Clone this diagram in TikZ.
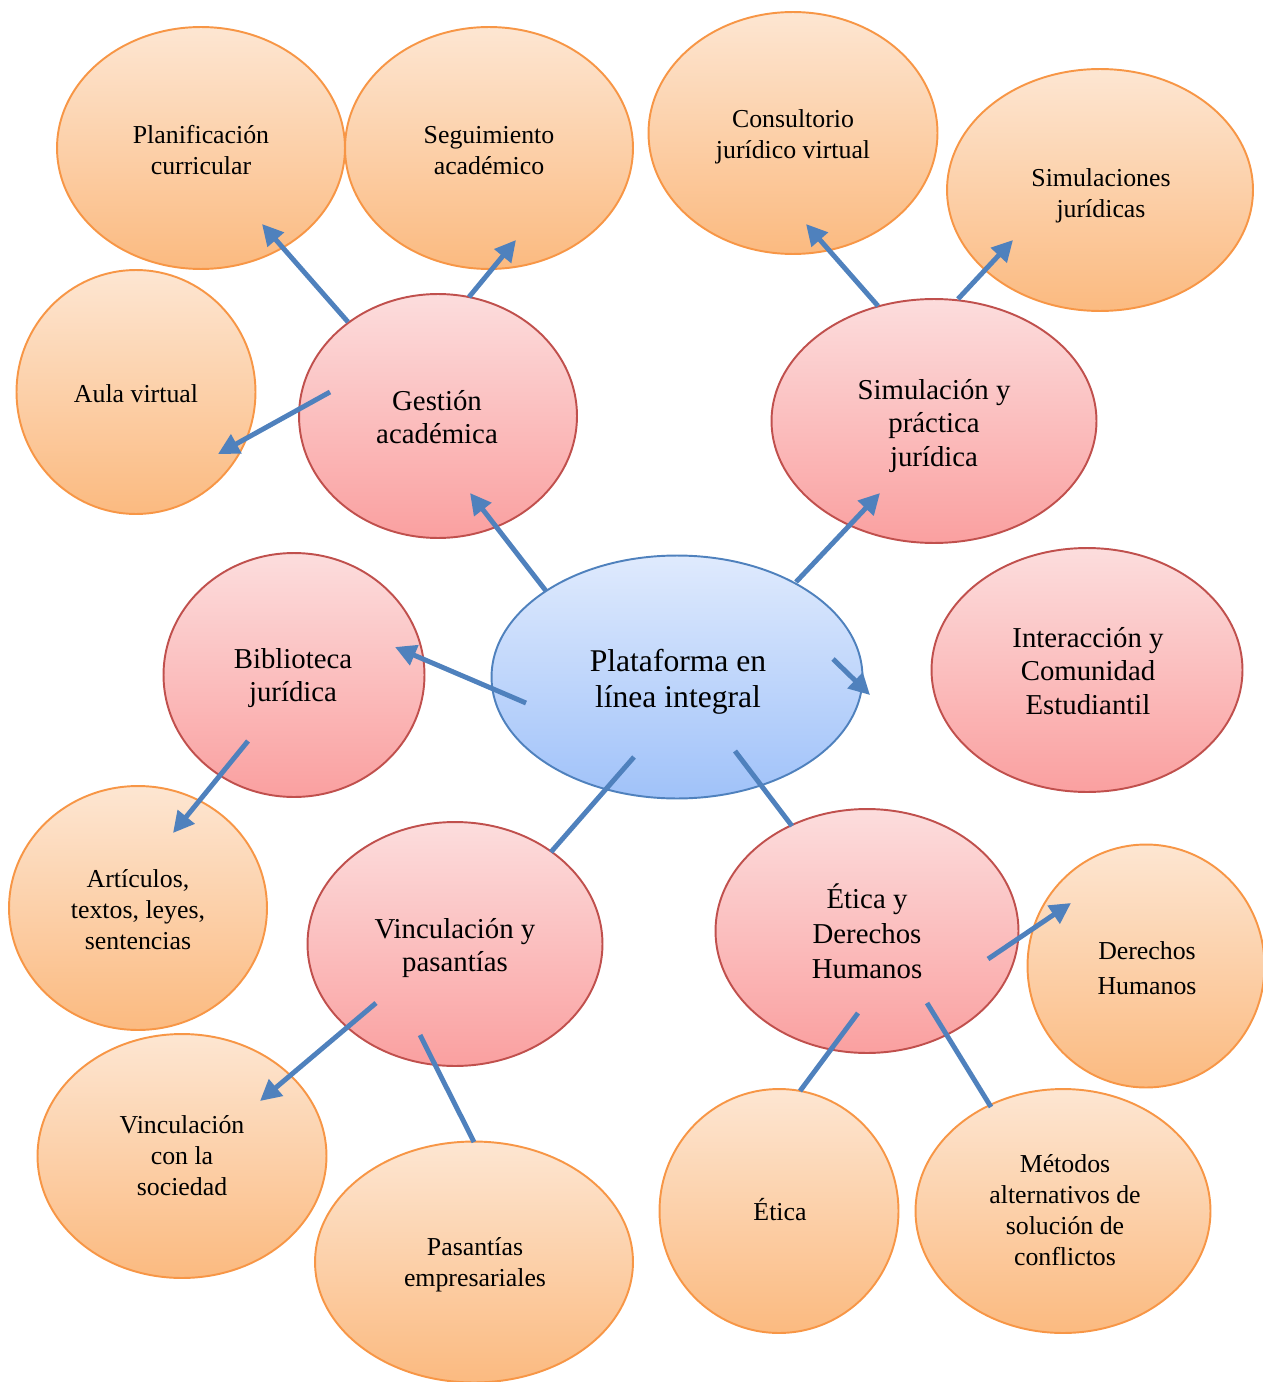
\documentclass[tikz,border=0pt]{standalone}
\usepackage{fontspec}
\setmainfont{Liberation Serif}
\usetikzlibrary{arrows.meta,shapes.geometric}
\definecolor{orTop}{HTML}{FDE6D2}
\definecolor{orBot}{HTML}{FBBA80}
\definecolor{orLine}{HTML}{F79646}
\definecolor{pkTop}{HTML}{FCDDDD}
\definecolor{pkBot}{HTML}{FAA0A0}
\definecolor{pkLine}{HTML}{C0504D}
\definecolor{blTop}{HTML}{DFEAFD}
\definecolor{blBot}{HTML}{A0C2F9}
\definecolor{blLine}{HTML}{4F81BD}
\definecolor{arrowBlue}{HTML}{4F81BD}
\tikzset{
  leaf/.style={ellipse, draw=orLine, line width=1.1pt, top color=orTop, bottom color=orBot, inner sep=0pt},
  mid/.style={ellipse, draw=pkLine, line width=1.1pt, top color=pkTop, bottom color=pkBot, inner sep=0pt},
  hub/.style={ellipse, draw=blLine, line width=1.1pt, top color=blTop, bottom color=blBot, inner sep=0pt},
  tleaf/.style={inner sep=0pt, align=center, font=\fontsize{14.7}{17.6}\selectfont},
  tmid/.style={inner sep=0pt, align=center, font=\fontsize{16.4}{19}\selectfont},
  thub/.style={inner sep=0pt, align=center, font=\fontsize{18}{20.5}\selectfont},
  conn/.style={draw=arrowBlue, line width=2.8pt},
  arr/.style={conn, -{Triangle[length=0.42cm,width=0.42cm]}},
}
\begin{document}
\begin{tikzpicture}[x=0.02cm,y=-0.02cm]
\useasboundingbox (0,0) rectangle (1263,1382);
% leaves
\node[leaf, minimum width=5.76cm, minimum height=4.84cm] (plan) at (201,148) {};
\node[tleaf] (plan-t) at (201,150) {Planificación\\curricular};
\node[leaf, minimum width=5.76cm, minimum height=4.84cm] (segu) at (489,148) {};
\node[tleaf] (segu-t) at (489,151) {Seguimiento\\académico};
\node[leaf, minimum width=5.78cm, minimum height=4.84cm] (cons) at (793,133) {};
\node[tleaf] (cons-t) at (793,137) {Consultorio\\jurídico virtual};
\node[leaf, minimum width=6.12cm, minimum height=4.84cm] (simj) at (1100,190) {};
\node[tleaf] (simj-t) at (1101,196) {Simulaciones\\jurídicas};
\node[leaf, minimum width=4.78cm, minimum height=4.88cm] (aula) at (136,392) {};
\node[tleaf] (aula-t) at (136,394) {Aula virtual};
\node[leaf, minimum width=5.16cm, minimum height=4.88cm] (arti) at (138,908) {};
\node[tleaf] (arti-t) at (138,910) {Artículos,\\textos, leyes,\\sentencias};
\node[leaf, minimum width=5.78cm, minimum height=4.88cm] (vsoc) at (182,1156) {};
\node[tleaf] (vsoc-t) at (182,1156) {Vinculación\\con la\\sociedad};
\node[leaf, minimum width=6.36cm, minimum height=4.82cm] (pasa) at (474,1262) {};
\node[tleaf] (pasa-t) at (475,1265) {Pasantías\\empresariales};
\node[leaf, minimum width=4.78cm, minimum height=4.88cm] (etic) at (779,1211) {};
\node[tleaf] (etic-t) at (780,1210) {Ética};
\node[leaf, minimum width=5.9cm, minimum height=4.88cm] (meto) at (1063,1211) {};
\node[tleaf] (meto-t) at (1065,1210) {Métodos\\alternativos de\\solución de\\conflictos};
\node[leaf, minimum width=4.74cm, minimum height=4.86cm] (dhum) at (1146,966) {};
\node[tleaf, font=\fontsize{14.7}{19.8}\selectfont] (dhum-t) at (1147,968) {Derechos\\Humanos};
% middle
\node[mid, minimum width=5.56cm, minimum height=4.88cm] (gest) at (438,416) {};
\node[tmid] (gest-t) at (437,417) {Gestión\\académica};
\node[mid, minimum width=6.5cm, minimum height=4.88cm] (simu) at (934,421) {};
\node[tmid] (simu-t) at (934,426) {Simulación y\\práctica\\jurídica};
\node[mid, minimum width=5.22cm, minimum height=4.88cm] (bibl) at (294,675) {};
\node[tmid] (bibl-t) at (293,678) {Biblioteca\\jurídica};
\node[mid, minimum width=6.22cm, minimum height=4.88cm] (inte) at (1087,670) {};
\node[tmid] (inte-t) at (1088,671) {Interacción y\\Comunidad\\Estudiantil};
\node[mid, minimum width=5.9cm, minimum height=4.88cm] (vinc) at (455,944) {};
\node[tmid] (vinc-t) at (455,948) {Vinculación y\\pasantías};
\node[mid, minimum width=6.06cm, minimum height=4.88cm] (edh) at (867,931) {};
\node[tmid, font=\fontsize{16.4}{20}\selectfont] (edh-t) at (867,931) {Ética y\\Derechos\\Humanos};
% hub
\node[hub, minimum width=7.42cm, minimum height=4.86cm] (hub) at (677,677) {};
\node[thub] (hub-t) at (678,682) {Plataforma en\\línea integral};
% connector end points
\coordinate (g1) at (348,322); \coordinate (p1) at (262,224);
\coordinate (g2) at (469,297); \coordinate (s1) at (516,240);
\coordinate (g3) at (330,392); \coordinate (a1) at (218,454);
\coordinate (h1) at (546,591); \coordinate (g4) at (470,493);
\coordinate (h2) at (796,582); \coordinate (m1) at (880,493);
\coordinate (h3) at (833,659); \coordinate (i1) at (870,695);
\coordinate (h4) at (526,703); \coordinate (b1) at (395,647);
\coordinate (m2) at (878,306); \coordinate (c1) at (806,224);
\coordinate (m3) at (958,299); \coordinate (j1) at (1013,240);
\coordinate (b2) at (248,741); \coordinate (r1) at (173,833);
\coordinate (h5) at (634,757); \coordinate (v1) at (551,852);
\coordinate (h6) at (735,751); \coordinate (e1) at (792,826);
\coordinate (v2) at (376,1003); \coordinate (q1) at (260,1101);
\coordinate (v3) at (420,1035); \coordinate (q2) at (474,1142);
\coordinate (e2) at (988,959); \coordinate (d1) at (1071,903);
\coordinate (e3) at (858,1013); \coordinate (t1) at (800,1091);
\coordinate (e4) at (927,1003); \coordinate (t2) at (991,1107);
% connectors
\draw[arr] (g1) -- (p1);
\draw[arr] (g2) -- (s1);
\draw[arr] (g3) -- (a1);
\draw[arr] (h1) -- (g4);
\draw[arr] (h2) -- (m1);
\draw[arr] (h3) -- (i1);
\draw[arr] (h4) -- (b1);
\draw[arr] (m2) -- (c1);
\draw[arr] (m3) -- (j1);
\draw[arr] (b2) -- (r1);
\draw[conn] (h5) -- (v1);
\draw[conn] (h6) -- (e1);
\draw[arr] (v2) -- (q1);
\draw[conn] (v3) -- (q2);
\draw[arr] (e2) -- (d1);
\draw[conn] (e3) -- (t1);
\draw[conn] (e4) -- (t2);
\end{tikzpicture}
\end{document}
